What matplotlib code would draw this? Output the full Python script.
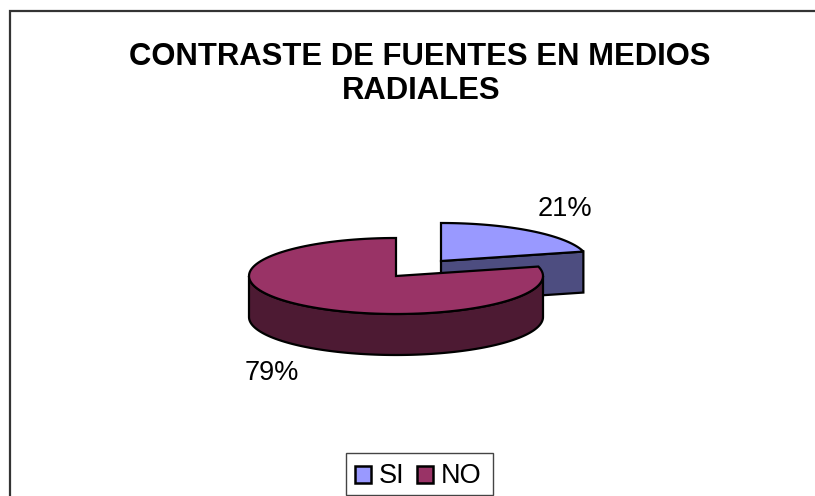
import numpy as np
import matplotlib
matplotlib.use("Agg")
import matplotlib.pyplot as plt
from matplotlib.patches import Polygon, Rectangle

labels = ["SI", "NO"]
values = [21, 79]
colors = ["#9999FF", "#993366"]
side_colors = ["#4D4D80", "#4D1A33"]
pct_labels = ["21%", "79%"]
title = "CONTRASTE DE FUENTES EN MEDIOS\nRADIALES"

W, H = 815, 496
RX, RY, DEPTH = 147, 38, 41
CENTERS = [(441, 261), (396, 276)]
DARK = "#000000"


def rim(cx, cy, t0, t1, n=120):
    # clockwise from 12 o'clock, squashed for the fake 3d look
    t = np.linspace(t0, t1, n)
    return cx + RX * np.sin(t), cy - RY * np.cos(t)


plt.rcParams["font.family"] = ["Liberation Sans"]
fig = plt.figure(figsize=(W / 100, H / 100), dpi=100)
ax = fig.add_axes([0, 0, 1, 1])
ax.set_xlim(0, W)
ax.set_ylim(H, 0)
ax.axis("off")

# chart frame is cut off by the image on the right and bottom
ax.plot([10, 10, W], [H, 11, 11], color="#333333", lw=1.6, solid_joinstyle="miter")

fracs = np.cumsum([0] + values) / sum(values) * 2 * np.pi
for i in range(len(values)):
    cx, cy = CENTERS[i]
    t0, t1 = fracs[i], fracs[i + 1]
    x, y = rim(cx, cy, t0, t1)

    # side wall: only the front part of the rim is visible
    lo, hi = max(t0, np.pi / 2), min(t1, 3 * np.pi / 2)
    if lo < hi:
        sx, sy = rim(cx, cy, lo, hi)
        wall = np.r_[np.c_[sx, sy], np.c_[sx, sy + DEPTH][::-1]]
        ax.add_patch(Polygon(wall, fc=side_colors[i], ec=DARK, lw=1.6, zorder=2 + i))
    # cut face of the first slice
    if i == 0:
        ex, ey = x[-1], y[-1]
        face = [(cx, cy), (ex, ey), (ex, ey + DEPTH), (cx, cy + DEPTH)]
        ax.add_patch(Polygon(face, fc=side_colors[i], ec=DARK, lw=1.6, zorder=2))

    top = np.r_[[[cx, cy]], np.c_[x, y]]
    ax.add_patch(Polygon(top, fc=colors[i], ec=DARK, lw=1.6, zorder=3 + i))

ax.text(420, 57, title.split("\n")[0], ha="center", va="center", fontsize=22.3, fontweight="bold")
ax.text(421, 91, title.split("\n")[1], ha="center", va="center", fontsize=22.3, fontweight="bold")
ax.text(565, 209, pct_labels[0], ha="center", va="center", fontsize=19.5)
ax.text(272, 373, pct_labels[1], ha="center", va="center", fontsize=19.5)

# legend
ax.add_patch(Rectangle((346, 453), 147, 42, fc="white", ec="#444444", lw=1))
for i, (lx, tx) in enumerate([(355, 379), (417, 441)]):
    ax.add_patch(Rectangle((lx, 466), 16, 17, fc=colors[i], ec=DARK, lw=1.8))
    ax.text(tx, 476, labels[i], ha="left", va="center", fontsize=19.5)

fig.savefig("out.png", dpi=100)
